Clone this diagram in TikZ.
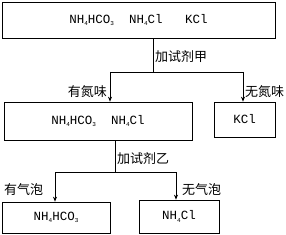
\documentclass[tikz,border=0pt]{standalone}
\usepackage{fontspec}
\setmonofont{Liberation Mono}
\newfontfamily\cjk{Noto Sans CJK SC}
\usetikzlibrary{arrows.meta}
\newcommand{\subs}[1]{\raisebox{-0.35ex}{\fontsize{6}{6}\selectfont #1}}
\begin{document}
\begin{tikzpicture}[x=1pt,y=-1pt,
  box/.style={draw,line width=0.7pt,inner sep=0pt,font=\ttfamily\fontsize{12.5}{13}\selectfont},
  conn/.style={line width=0.7pt},
  arr/.style={line width=0.7pt,-{Stealth[length=5pt,width=4pt]}},
  lab/.style={inner sep=0pt,font=\cjk\fontsize{13}{14}\selectfont}]
\useasboundingbox (0,0) rectangle (286,235);
\node[box,minimum width=273pt,minimum height=36pt] (top) at (138.5,20) {NH\subs{4}HCO\subs{3}\ \ NH\subs{4}Cl\ \ \ KCl};
\node[box,minimum width=188pt,minimum height=38pt] (ml) at (98,121) {NH\subs{4}HCO\subs{3}\ \ NH\subs{4}Cl};
\node[box,minimum width=61pt,minimum height=35pt] (mr) at (244.5,119.5) {KCl};
\node[box,minimum width=108pt,minimum height=31pt] (bl) at (56,217.5) {NH\subs{4}HCO\subs{3}};
\node[box,minimum width=80pt,minimum height=33pt] (br) at (179,216.5) {NH\subs{4}Cl};
\coordinate (j1) at (153,72);
\coordinate (j1l) at (110,72);
\coordinate (j1r) at (243,72);
\coordinate (j2) at (115,172);
\coordinate (j2l) at (55,172);
\coordinate (j2r) at (176,172);
\draw[conn] (top.south -| j1) -- (j1);
\draw[conn] (j1l) -- (j1r);
\draw[arr] (j1l) -- (ml.north -| j1l);
\draw[arr] (j1r) -- (mr.north -| j1r);
\draw[conn] (ml.south -| j2) -- (j2);
\draw[conn] (j2l) -- (j2r);
\draw[arr] (j2l) -- (bl.north -| j2l);
\draw[arr] (j2r) -- (br.north -| j2r);
\node[lab,anchor=west] (l1) at (155,57) {加试剂甲};
\node[lab,anchor=east] (l2) at (107,92) {有氮味};
\node[lab,anchor=west] (l3) at (245,92) {无氮味};
\node[lab,anchor=west] (l4) at (117,159) {加试剂乙};
\node[lab,anchor=west] (l5) at (4,190) {有气泡};
\node[lab,anchor=west] (l6) at (182,190) {无气泡};
\end{tikzpicture}
\end{document}
